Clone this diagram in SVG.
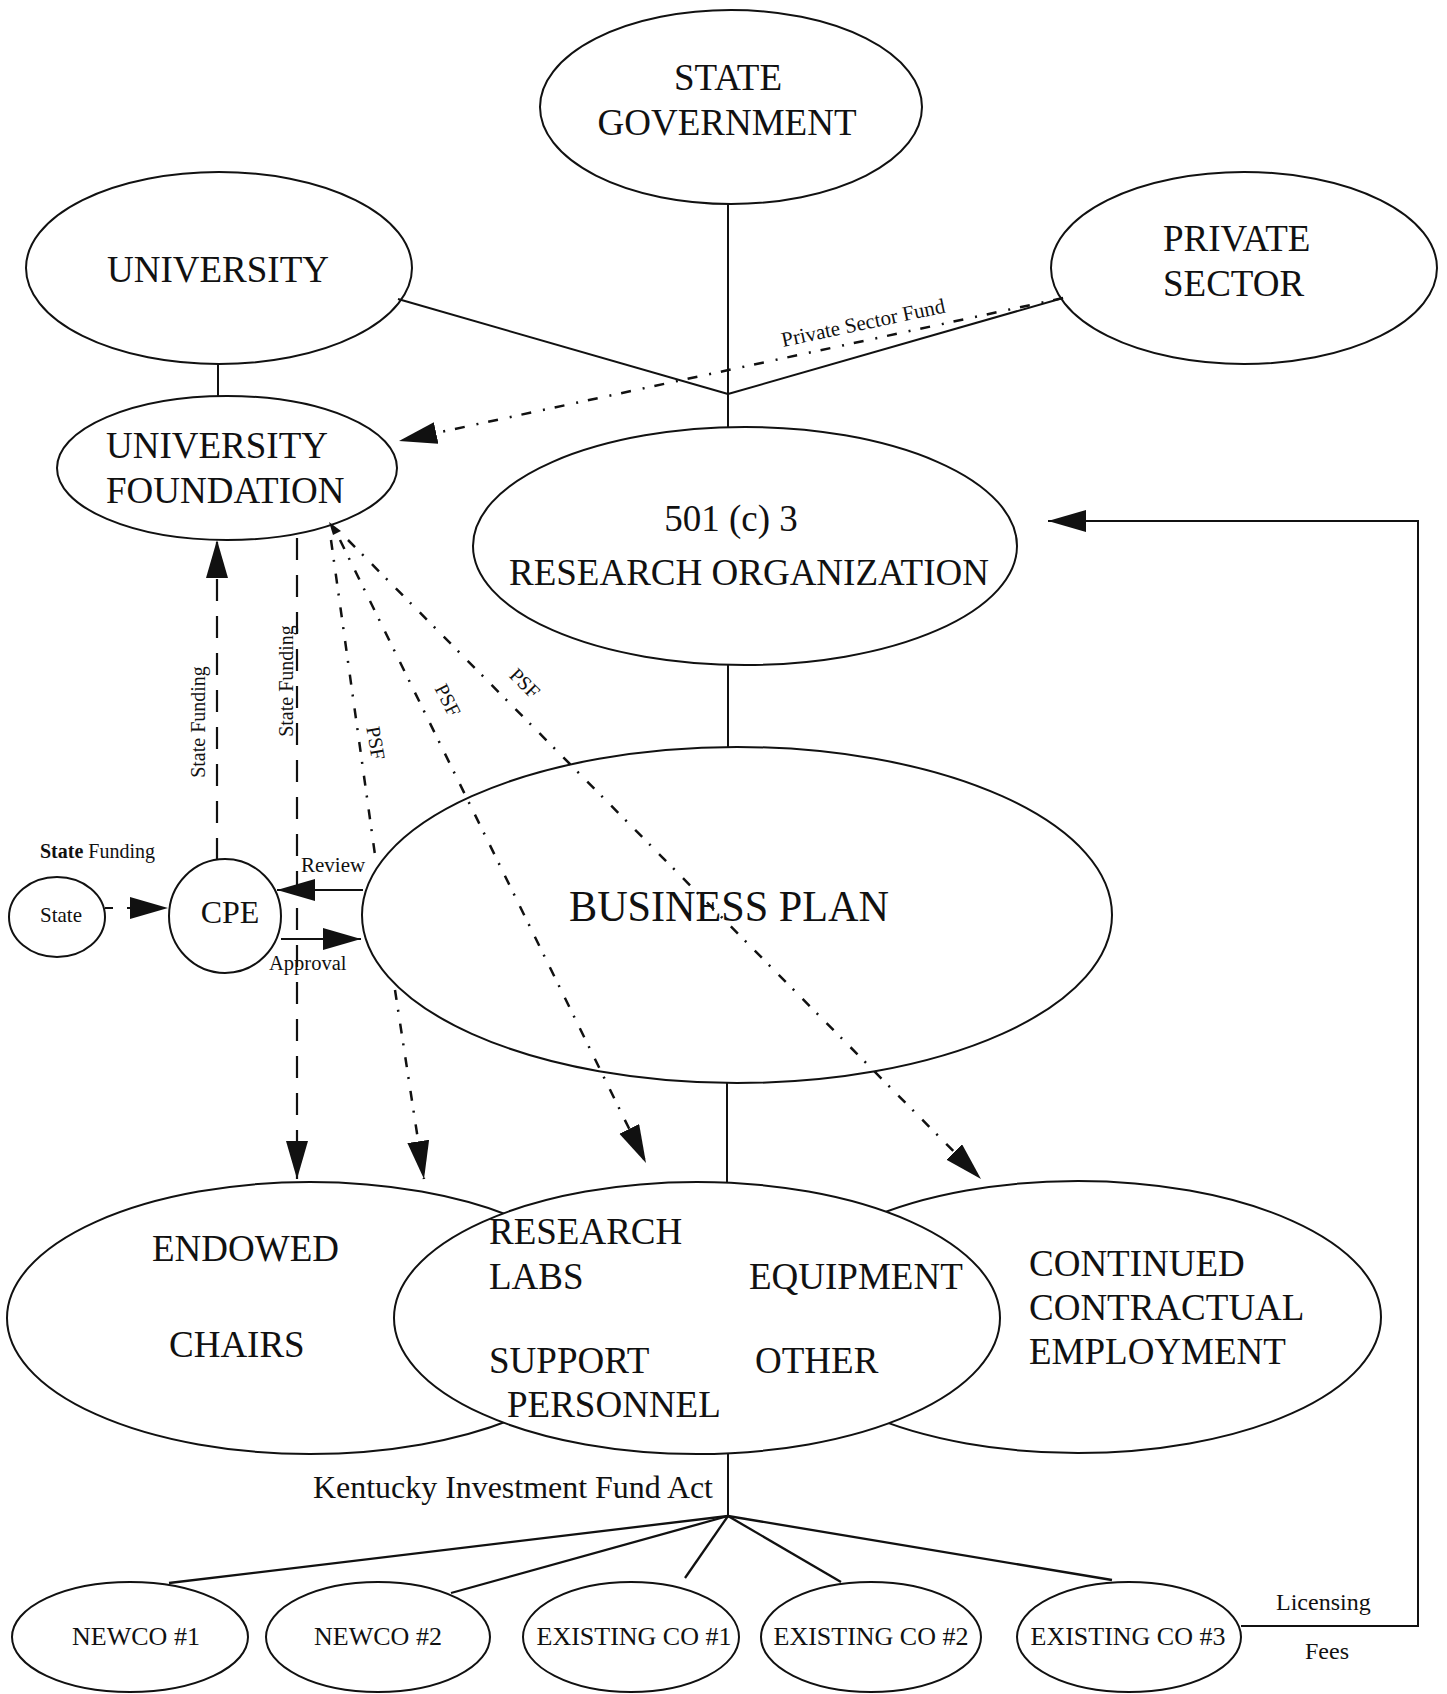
<svg xmlns="http://www.w3.org/2000/svg" width="1447" height="1694" viewBox="0 0 1447 1694">
<defs>
<marker id="arrow" markerUnits="userSpaceOnUse" markerWidth="40" markerHeight="24" refX="38" refY="11" orient="auto"><path d="M0,0 L38,11 L0,22 z" fill="#111"/></marker>
</defs>
<style>
.node ellipse{fill:#fff;stroke:#111;stroke-width:2}
text{font-family:"Liberation Serif","Times New Roman",serif;fill:#111}
.big{font-size:37px}
.co{font-size:26px;text-anchor:middle}
.mid{text-anchor:middle}
.sm{font-size:20px}
.solid{stroke:#111;stroke-width:2;fill:none}
.fan{stroke:#111;stroke-width:2.3;fill:none}
.dash{stroke:#111;stroke-width:2.2;fill:none;stroke-dasharray:22 15}
.dd{stroke:#111;stroke-width:2.5;fill:none;stroke-dasharray:10 10 2 12}
</style>
<rect width="1447" height="1694" fill="#fff"/>
<g id="nodes">
<g id="state-government" class="node"><ellipse cx="731" cy="107" rx="191" ry="97"/><text class="big mid" x="728" y="90">STATE</text><text class="big mid" x="727" y="135">GOVERNMENT</text></g>
<g id="university" class="node"><ellipse cx="219" cy="268" rx="193" ry="96"/><text class="big mid" x="218" y="282">UNIVERSITY</text></g>
<g id="private-sector" class="node"><ellipse cx="1244" cy="268" rx="193" ry="96"/><text class="big" x="1163" y="251">PRIVATE</text><text class="big" x="1163" y="296">SECTOR</text></g>
<g id="university-foundation" class="node"><ellipse cx="227" cy="468" rx="170" ry="72"/><text class="big" x="106" y="458">UNIVERSITY</text><text class="big" x="106" y="503">FOUNDATION</text></g>
<g id="research-organization" class="node"><ellipse cx="745" cy="546" rx="272" ry="119"/><text class="big mid" x="731" y="531">501 (c) 3</text><text class="big mid" x="749" y="585">RESEARCH ORGANIZATION</text></g>
<g id="business-plan" class="node"><ellipse cx="737" cy="915" rx="375" ry="168"/><text class="mid" x="729" y="921" font-size="44" textLength="320" lengthAdjust="spacingAndGlyphs">BUSINESS PLAN</text></g>
<g id="state" class="node"><ellipse cx="57" cy="917" rx="48" ry="40"/><text class="mid" x="61" y="922" font-size="21">State</text></g>
<g id="cpe" class="node"><ellipse cx="225" cy="916" rx="56" ry="57"/><text class="mid" x="230" y="923" font-size="32">CPE</text></g>
<g id="endowed-chairs" class="node"><ellipse cx="310" cy="1318" rx="303" ry="136"/><text class="big" x="152" y="1261">ENDOWED</text><text class="big" x="169" y="1357">CHAIRS</text></g>
<g id="continued-employment" class="node"><ellipse cx="1078" cy="1317" rx="303" ry="136"/><text class="big" x="1029" y="1276">CONTINUED</text><text class="big" x="1029" y="1320">CONTRACTUAL</text><text class="big" x="1029" y="1364">EMPLOYMENT</text></g>
<g id="research-labs" class="node"><ellipse cx="697" cy="1318" rx="303" ry="136"/><text class="big" x="489" y="1244">RESEARCH</text><text class="big" x="489" y="1289">LABS</text><text class="big" x="749" y="1289">EQUIPMENT</text><text class="big" x="489" y="1373">SUPPORT</text><text class="big" x="755" y="1373">OTHER</text><text class="big" x="507" y="1417">PERSONNEL</text></g>
<g id="newco-1" class="node"><ellipse cx="130" cy="1637" rx="118" ry="55"/><text class="co" x="136" y="1645">NEWCO #1</text></g>
<g id="newco-2" class="node"><ellipse cx="378" cy="1637" rx="112" ry="55"/><text class="co" x="378" y="1645">NEWCO #2</text></g>
<g id="existing-co-1" class="node"><ellipse cx="631" cy="1637" rx="108" ry="55"/><text class="co" x="634" y="1645">EXISTING CO #1</text></g>
<g id="existing-co-2" class="node"><ellipse cx="871" cy="1637" rx="110" ry="55"/><text class="co" x="871" y="1645">EXISTING CO #2</text></g>
<g id="existing-co-3" class="node"><ellipse cx="1129" cy="1637" rx="112" ry="55"/><text class="co" x="1128" y="1645">EXISTING CO #3</text></g>
</g>
<g id="connectors">
<line class="solid" x1="728" y1="204" x2="728" y2="427"/>
<line class="solid" x1="398" y1="299" x2="728" y2="394"/>
<line class="solid" x1="1063" y1="298" x2="728" y2="394"/>
<line class="solid" x1="218" y1="364" x2="218" y2="396"/>
<line class="solid" x1="728" y1="665" x2="728" y2="747"/>
<line class="solid" x1="727" y1="1083" x2="727" y2="1182"/>
<line class="solid" x1="728" y1="1454" x2="728" y2="1516"/>
<line class="fan" x1="728" y1="1516" x2="169" y2="1583"/>
<line class="fan" x1="728" y1="1516" x2="451" y2="1593"/>
<line class="fan" x1="728" y1="1516" x2="685" y2="1578"/>
<line class="fan" x1="728" y1="1516" x2="841" y2="1582"/>
<line class="fan" x1="728" y1="1516" x2="1112" y2="1580"/>
<path class="solid" d="M1241 1626 H1418 V521 H1048" marker-end="url(#arrow)"/>
<text x="1276" y="1610" font-size="24">Licensing</text>
<text x="1305" y="1659" font-size="24">Fees</text>
<text x="313" y="1498" font-size="31" textLength="400" lengthAdjust="spacingAndGlyphs">Kentucky Investment Fund Act</text>
<line class="dd" x1="1063" y1="298" x2="399" y2="441" marker-end="url(#arrow)"/>
<text transform="translate(783,347) rotate(-12)" font-size="21">Private Sector Fund</text>
<line class="dash" x1="217" y1="860" x2="217" y2="540" marker-end="url(#arrow)"/>
<text class="sm mid" transform="translate(198,722) rotate(-90)" y="7">State Funding</text>
<line class="dash" x1="297" y1="538" x2="297" y2="1179" marker-end="url(#arrow)"/>
<text class="sm mid" transform="translate(286,681) rotate(-90)" y="7">State Funding</text>
<line class="solid" x1="105" y1="908" x2="168" y2="908" stroke-dasharray="8 14" marker-end="url(#arrow)"/>
<text x="40" y="858" font-size="20"><tspan font-weight="bold">State</tspan> Funding</text>
<line class="solid" x1="363" y1="890" x2="277" y2="890" marker-end="url(#arrow)"/>
<text x="301" y="872" font-size="21">Review</text>
<line class="solid" x1="281" y1="939" x2="361" y2="939" marker-end="url(#arrow)"/>
<text x="269" y="970" font-size="20.5">Approval</text>
<polygon points="329,522 341,531 333,535" fill="#111"/>
<line class="dd" x1="331" y1="540" x2="376" y2="862"/>
<line class="dd" x1="395" y1="990" x2="424" y2="1179" marker-end="url(#arrow)"/>
<line class="dd" x1="340" y1="540" x2="646" y2="1163" marker-end="url(#arrow)"/>
<line class="dd" x1="348" y1="540" x2="981" y2="1179" marker-end="url(#arrow)"/>
<text class="sm mid" transform="translate(376,743) rotate(80)" y="7">PSF</text>
<text class="sm mid" transform="translate(448,700) rotate(63)" y="7">PSF</text>
<text class="sm mid" transform="translate(525,683) rotate(45)" y="7">PSF</text>
</g>
</svg>
